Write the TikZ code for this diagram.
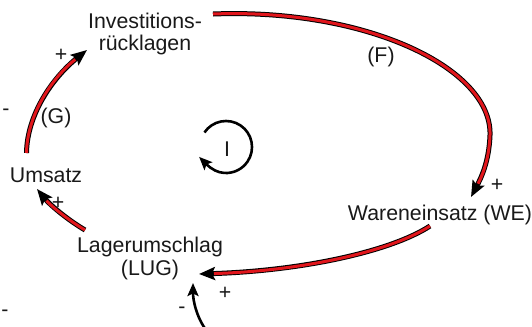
\documentclass[tikz,border=0pt]{standalone}
\usepackage{fontspec}
\setmainfont{Liberation Sans}
\usetikzlibrary{arrows.meta}
\definecolor{linkred}{RGB}{225,22,28}
\definecolor{txt}{RGB}{25,25,25}
\begin{document}
\begin{tikzpicture}[x=1bp,y=-1bp,
  lbl/.style={font=\fontsize{21.4}{22.5}\selectfont, inner sep=0pt, text=txt},
  sgn/.style={font=\fontsize{21.4}{22}\selectfont, inner sep=0pt, anchor=base, text=txt},
  cl/.style={draw=black, line width=5bp,
    -{Stealth[length=16bp,width=13bp,inset=3bp]},
    postaction={draw=linkred, line width=3bp, -, shorten >=15bp}},
  thinarrow/.style={draw=black, line width=2.6bp,
    -{Stealth[length=13bp,width=11bp,inset=2.5bp]}}
]
\useasboundingbox (0,0) rectangle (532,326);

% nodes
\node[lbl, align=center] (inv) at (145,33.7) {Investitions-\\rücklagen};
\node[lbl, anchor=base] (ums) at (46,182) {Umsatz};
\node[lbl, anchor=base] (we) at (440,220) {Wareneinsatz (WE)};
\node[lbl, align=center] (lug) at (150,258.6) {Lagerumschlag\\(LUG)};
\node[lbl, anchor=base] (F) at (381,62) {(F)};
\node[lbl, anchor=base] (G) at (56,123) {(G)};
\node[lbl, anchor=base] (loopI) at (227,156) {I};

% signs
\node[sgn] (p1) at (61,61.4) {+};
\node[sgn] (p2) at (58,209.4) {+};
\node[sgn] (p3) at (497,191.4) {+};
\node[sgn] (p4) at (225,299.4) {+};
\node[sgn] (m1) at (6,115.6) {-};
\node[sgn] (m2) at (182,313.6) {-};
\node[sgn] (m3) at (5,316.6) {-};

% causal links
\draw[cl] ([shift={(-19.5,-29)}]ums.base) .. controls (27,115) and (52,78) .. ([shift={(-58,16.3)}]inv.center);
\draw[cl] ([shift={(68,-19.7)}]inv.center) .. controls (366,8) and (492,68) .. (490,135) .. controls (489,162) and (481,178) .. ([shift={(31,-23)}]we.base);
\draw[cl] ([shift={(-10,6)}]we.base) .. controls (390,252) and (300,271) .. ([shift={(49,15.4)}]lug.center);
\draw[cl] ([shift={(-65,-28.6)}]lug.center) .. controls (68,220) and (50,205) .. ([shift={(-9,7)}]ums.base);

% incoming black link
\coordinate (bstart) at (206,330);
\draw[thinarrow] (bstart) .. controls (196,316) and (193,300) .. ([shift={(43,24.4)}]lug.center);

% loop symbol
\coordinate (lc) at (226,147);
\draw[thinarrow, shorten >=-12bp] (lc) ++(-146:26) arc[start angle=-146, end angle=135, radius=26];
\end{tikzpicture}
\end{document}
